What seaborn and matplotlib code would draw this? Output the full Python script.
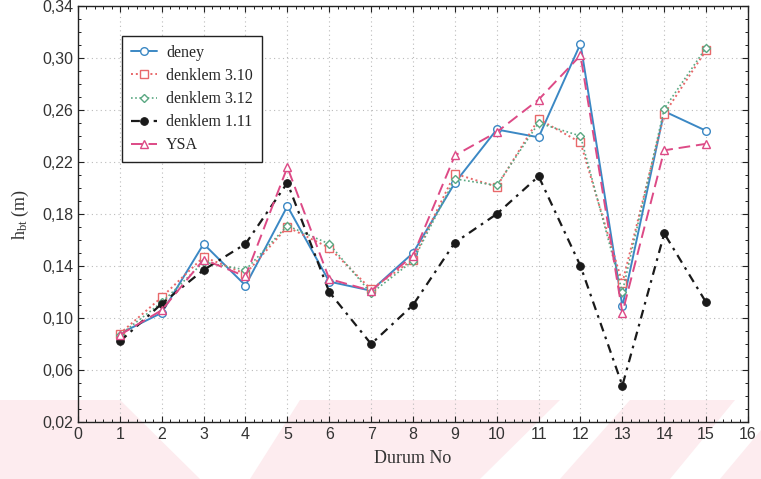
import matplotlib
matplotlib.use("Agg")
import matplotlib.pyplot as plt
import seaborn as sns
import numpy as np
import pandas as pd
from matplotlib.ticker import MultipleLocator, FixedLocator
from matplotlib.patches import Polygon

durum = list(range(1, 16))
deney = [0.088, 0.104, 0.157, 0.125, 0.186, 0.128, 0.121, 0.150, 0.204, 0.245, 0.239, 0.311, 0.109, 0.259, 0.244]
denklem_310 = [0.088, 0.116, 0.147, 0.134, 0.170, 0.154, 0.122, 0.145, 0.211, 0.201, 0.253, 0.235, 0.127, 0.257, 0.306]
denklem_312 = [0.087, 0.112, 0.143, 0.137, 0.171, 0.157, 0.119, 0.144, 0.207, 0.202, 0.250, 0.240, 0.120, 0.261, 0.308]
denklem_111 = [0.082, 0.111, 0.137, 0.157, 0.204, 0.120, 0.080, 0.110, 0.158, 0.180, 0.209, 0.140, 0.048, 0.165, 0.112]
ysa = [0.087, 0.106, 0.145, 0.132, 0.216, 0.130, 0.121, 0.148, 0.225, 0.243, 0.268, 0.302, 0.104, 0.229, 0.234]

x_ticks = list(range(0, 17))
y_ticks = [0.02, 0.06, 0.10, 0.14, 0.18, 0.22, 0.26, 0.30, 0.34]
y_ticklabels = ["0,02", "0,06", "0,10", "0,14", "0,18", "0,22", "0,26", "0,30", "0,34"]

sns.set_theme(style="white")
plt.rcParams["font.family"] = ["Liberation Sans", "DejaVu Sans"]
plt.rcParams["mathtext.fontset"] = "custom"
plt.rcParams["mathtext.rm"] = "Liberation Serif"
plt.rcParams["mathtext.it"] = "Liberation Serif:italic"

fig = plt.figure(figsize=(7.61, 4.79), dpi=100)
fig.patch.set_facecolor("white")

# faint watermark band at the bottom
pink = "#fdecef"
W, H = 761, 479
def fpoly(pts):
    p = Polygon([(x / W, 1 - y / H) for x, y in pts], closed=True,
                transform=fig.transFigure, facecolor=pink, edgecolor="none", zorder=-10)
    fig.patches.append(p)
fpoly([(0, 400), (120, 400), (200, 479), (0, 479)])
fpoly([(250, 479), (300, 400), (560, 400), (480, 479)])
fpoly([(560, 479), (630, 400), (735, 400), (670, 479)])
fpoly([(720, 479), (761, 430), (761, 479)])

ax = fig.add_axes([78 / W, 1 - 422 / H, (748 - 78) / W, (422 - 6) / H])
ax.set_facecolor("none")

specs = [
    ("deney", deney, dict(color="#3b88c4", linestyle="-", marker="o", markersize=5.5,
                          markerfacecolor="white", markeredgecolor="#3b88c4",
                          markeredgewidth=1.0, linewidth=1.4)),
    ("denklem 3.10", denklem_310, dict(color="#e8686a", linestyle=(0, (1, 1.5)), marker="s",
                                      markersize=6, markerfacecolor="white", markeredgecolor="#e8686a",
                                      markeredgewidth=1.0, linewidth=1.4)),
    ("denklem 3.12", denklem_312, dict(color="#5aa882", linestyle=(0, (1, 1.5)), marker="D",
                                      markersize=4, markerfacecolor="white", markeredgecolor="#5aa882",
                                      markeredgewidth=1.0, linewidth=1.2)),
    ("denklem 1.11", denklem_111, dict(color="#1a1a1a", linestyle=(0, (4, 2.5, 1.2, 2.5)), marker="o",
                                      markersize=5.5, markerfacecolor="#1a1a1a", markeredgecolor="#1a1a1a",
                                      linewidth=1.6)),
    ("YSA", ysa, dict(color="#dd4a86", linestyle=(0, (6, 3)), marker="^", markersize=5.5,
                      markerfacecolor="white", markeredgecolor="#dd4a86",
                      markeredgewidth=1.0, linewidth=1.4)),
]

for name, vals, kw in specs:
    df = pd.DataFrame({"Durum": durum, "h": vals})
    sns.lineplot(data=df, x="Durum", y="h", ax=ax, label=name, **kw)

ax.set_xlim(0, 16)
ax.set_ylim(0.02, 0.34)
ax.xaxis.set_major_locator(FixedLocator(x_ticks))
ax.xaxis.set_minor_locator(MultipleLocator(0.2))
ax.set_yticks(y_ticks)
ax.set_yticklabels(y_ticklabels)
ax.yaxis.set_minor_locator(MultipleLocator(0.01))
ax.tick_params(axis="both", which="both", direction="in", top=True, right=True,
               bottom=True, left=True, colors="#222222")
ax.tick_params(axis="both", which="major", length=4, width=0.8, labelsize=11.5, labelcolor="#333333")
ax.tick_params(axis="both", which="minor", length=2.5, width=0.7)
ax.grid(True, which="major", linestyle=(0, (1, 3)), color="#bbbbbb", linewidth=0.8)
for s in ax.spines.values():
    s.set_color("#222222")
    s.set_linewidth(1.0)

ax.set_xlabel("Durum No", fontsize=13, family=["Liberation Serif"], color="#333333", labelpad=6)
ax.set_ylabel(r"h$_{\rm bt}$ (m)", fontsize=13, family=["Liberation Serif"], color="#333333", labelpad=8)

leg = ax.legend(loc="upper left", bbox_to_anchor=(0.066, 0.928), borderaxespad=0, frameon=True,
                fancybox=False, edgecolor="#222222", framealpha=1,
                prop={"family": "Liberation Serif", "size": 11.5},
                handlelength=1.6, handletextpad=0.6, borderpad=0.55, labelspacing=0.45)
leg.get_frame().set_linewidth(1.0)

fig.savefig("out.png", dpi=100)
